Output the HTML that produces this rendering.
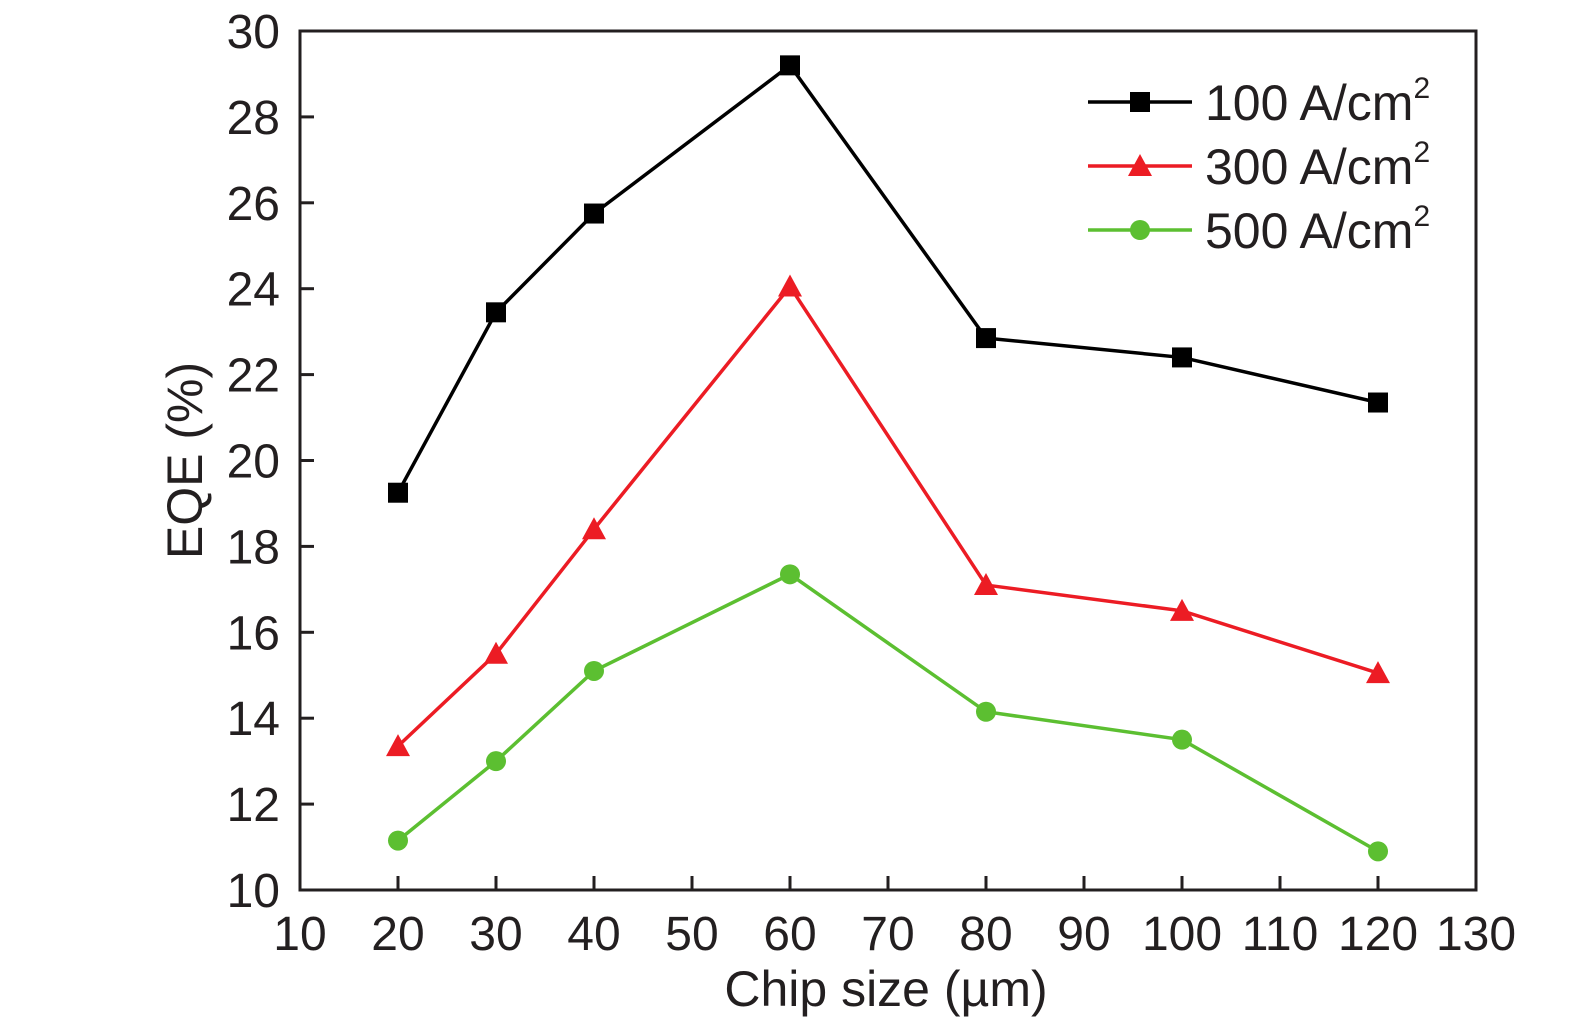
<!DOCTYPE html>
<html><head><meta charset="utf-8"><style>
body{margin:0;background:#fff;}
svg text{font-family:"Liberation Sans",sans-serif;fill:#231f20;}
</style></head><body>
<svg width="1575" height="1028" id="chart">
</svg>
<script>
const categories=[20,30,40,60,80,100,120];
const series100=[19.25,23.45,25.75,29.2,22.85,22.4,21.35];
const series300=[13.35,15.5,18.4,24.05,17.1,16.5,15.05];
const series500=[11.15,13.0,15.1,17.35,14.15,13.5,10.9];
const xTicks=[10,20,30,40,50,60,70,80,90,100,110,120,130];
const yTicks=[10,12,14,16,18,20,22,24,26,28,30];
const legendLabels=["100 A/cm","300 A/cm","500 A/cm"];

const L=300,R=1476,T=31,B=890;
const xs=v=>L+(v-10)/120*(R-L);
const ys=v=>B-(v-10)/20*(B-T);
const svg=document.getElementById('chart');
const NS='http://www.w3.org/2000/svg';
function mk(tag,attrs,parent){const e=document.createElementNS(NS,tag);for(const k in attrs)e.setAttribute(k,attrs[k]);(parent||svg).appendChild(e);return e;}

const frame=mk('rect',{x:L,y:T,width:R-L,height:B-T,fill:'none',stroke:'#231f20','stroke-width':3});



xTicks.forEach(t=>{
  const ln=mk('line',{x1:xs(t),x2:xs(t),y1:B,y2:B-14,stroke:'#231f20','stroke-width':3});
  
  
  const tx=mk('text',{x:xs(t),y:B+60,'text-anchor':'middle','font-size':48});
  tx.textContent=t;
  
  
});
yTicks.forEach(t=>{
  const ln=mk('line',{x1:L,x2:L+14,y1:ys(t),y2:ys(t),stroke:'#231f20','stroke-width':3});
  
  
  const tx=mk('text',{x:L-20,y:ys(t)+17,'text-anchor':'end','font-size':48});
  tx.textContent=t;
  
  
});
const xt=mk('text',{x:xs(70)-2,y:1006,'text-anchor':'middle','font-size':50});
xt.textContent='Chip size (µm)';


const yt=mk('text',{x:0,y:0,'text-anchor':'middle','font-size':50,transform:`translate(202,${ys(20)}) rotate(-90)`});
yt.textContent='EQE (%)';



function marker(shape,x,y,color,g){
  if(shape==='square') return mk('rect',{x:x-10,y:y-10,width:20,height:20,fill:color},g);
  if(shape==='tri') return mk('polygon',{points:`${x},${y-12} ${x+12},${y+10} ${x-12},${y+10}`,fill:color},g);
  return mk('circle',{cx:x,cy:y,r:10,fill:color},g);
}
const defs=[[series100,'#000000','square','series-100'],[series300,'#ec1c24','tri','series-300'],[series500,'#5cbf31','circle','series-500']];
defs.forEach(([data,color,shape,name])=>{
  const g=mk('g',{});
  
  
  const pl=mk('polyline',{points:data.map((v,i)=>xs(categories[i])+','+ys(v)).join(' '),fill:'none',stroke:color,'stroke-width':3.5},g);
  
  
  data.forEach((v,i)=>{
    const m=marker(shape,xs(categories[i]),ys(v),color,g);
    
    
  });
});
defs.forEach(([data,color,shape,name],i)=>{
  const y=102+i*64;
  const g=mk('g',{});
  
  
  mk('line',{x1:1088,x2:1192,y1:y,y2:y,stroke:color,'stroke-width':3.5},g);
  marker(shape,1140,y,color,g);
  const tx=mk('text',{x:1205,y:y+18,'font-size':50},g);
  tx.textContent=legendLabels[i];
  const sup=mk('tspan',{dy:-22,'font-size':30},tx);
  sup.textContent='2';
});
</script>
</body></html>
